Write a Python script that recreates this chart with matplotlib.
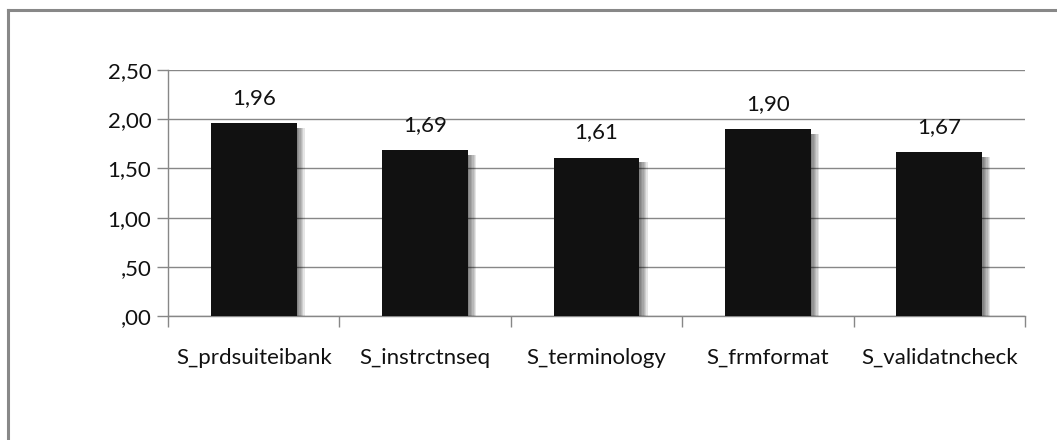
import matplotlib.pyplot as plt
import matplotlib.patheffects as pe
from matplotlib.lines import Line2D

categories = ['S_prdsuiteibank', 'S_instrctnseq', 'S_terminology', 'S_frmformat', 'S_validatncheck']
means = [1.96, 1.69, 1.61, 1.90, 1.67]
value_labels = ['1,96', '1,69', '1,61', '1,90', '1,67']
y_ticks = [0.0, 0.5, 1.0, 1.5, 2.0, 2.5]
y_tick_labels = [',00', ',50', '1,00', '1,50', '2,00', '2,50']

plt.rcParams['font.family'] = ['Lato', 'DejaVu Sans']
grid_col = '#878787'
fs = 16

fig = plt.figure(figsize=(10.57, 4.40), dpi=100)
ax = fig.add_axes([168 / 1057, 1 - 316 / 440, 857 / 1057, 246 / 440])

x = list(range(len(categories)))

# soft gradient shadow on the right side of each bar
shadow = [pe.SimplePatchShadow(offset=(d, -3.5), shadow_rgbFace='black', alpha=0.1)
          for d in (6.0, 5.0, 4.0, 3.0, 2.0, 1.0)]
bars = ax.bar(x, means, width=0.5, color='#111111', zorder=3,
              path_effects=shadow + [pe.Normal()])

for xi, v, lab in zip(x, means, value_labels):
    ax.annotate(lab, (xi, v), xytext=(0, 18), textcoords='offset points',
                ha='center', va='center', fontsize=fs, color='#111111')

ax.set_xlim(-0.5, len(categories) - 0.5)
ax.set_ylim(0, 2.5)
ax.set_yticks(y_ticks)
ax.set_yticklabels(y_tick_labels, fontsize=fs, color='#111111')
ax.set_xticks(x)
ax.set_xticklabels(categories, fontsize=fs, color='#111111')
ax.tick_params(axis='x', length=0, pad=23)
ax.set_xticks([i - 0.5 for i in range(len(categories) + 1)], minor=True)
ax.tick_params(axis='x', which='minor', length=8, color=grid_col, width=1)
ax.tick_params(axis='y', length=8, color=grid_col, width=1, pad=4)

ax.yaxis.grid(True, color=grid_col, linewidth=1)
ax.set_axisbelow(True)
for side in ('top', 'right'):
    ax.spines[side].set_visible(False)
for side in ('left', 'bottom'):
    ax.spines[side].set_color(grid_col)
    ax.spines[side].set_linewidth(1)

# outer chart frame
fy = 1 - 10 / 440
fx = 7.5 / 1057
fig.add_artist(Line2D([fx, fx], [0, fy], transform=fig.transFigure, color='#888888', lw=2.2))
fig.add_artist(Line2D([fx, 1], [fy, fy], transform=fig.transFigure, color='#888888', lw=2.2))

fig.savefig('out.png', dpi=100)
